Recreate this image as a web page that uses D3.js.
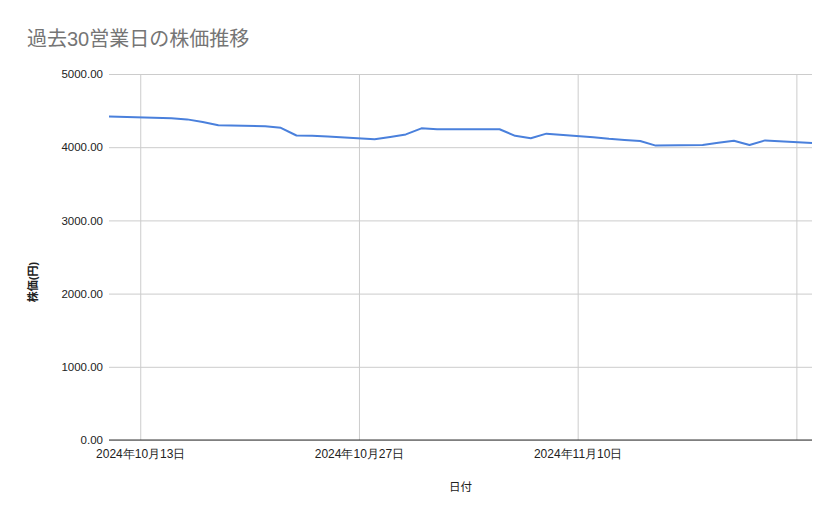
<!DOCTYPE html>
<html>
<head>
<meta charset="utf-8">
<script src="https://cdn.jsdelivr.net/npm/d3@7"></script>
<style>
  body { margin: 0; background: #fff; }
  svg { display: block; font-family: Arial, "Liberation Sans", "Noto Sans CJK JP", sans-serif; }
</style>
</head>
<body>
<svg id="canvas"></svg>
<script>
// data
const dates = ['2024-10-11','2024-10-15','2024-10-16','2024-10-17','2024-10-18',
  '2024-10-21','2024-10-22','2024-10-23','2024-10-24','2024-10-25',
  '2024-10-28','2024-10-29','2024-10-30','2024-10-31','2024-11-01',
  '2024-11-05','2024-11-06','2024-11-07','2024-11-08',
  '2024-11-11','2024-11-12','2024-11-13','2024-11-14','2024-11-15',
  '2024-11-18','2024-11-19','2024-11-20','2024-11-21','2024-11-22','2024-11-25']
const prices = [4420, 4395, 4380, 4345, 4300,
  4285, 4265, 4160, 4158, 4145,
  4108, 4140, 4175, 4258, 4245,
  4245, 4155, 4122, 4185,
  4135, 4115, 4100, 4085, 4022,
  4030, 4060, 4088, 4030, 4093, 4058]
const xTickDates = ['2024-10-13','2024-10-27','2024-11-10','2024-11-24']
const xTickLabels = ['2024年10月13日','2024年10月27日','2024年11月10日','']
const yTicks = [0, 1000, 2000, 3000, 4000, 5000]

const width = 839
const height = 519
const margin = {top: 74, right: 27, bottom: 79, left: 109}

const parse = d3.timeParse('%Y-%m-%d')
const data = dates.map((d, i) => ({date: parse(d), value: prices[i]}))

const canvas = d3.select('#canvas')
    .attr('width', width)
    .attr('height', height)

const x = d3.scaleTime()
    .domain([parse('2024-10-11'), parse('2024-11-25')])
    .range([margin.left, width - margin.right])

const y = d3.scaleLinear()
    .domain([0, 5000])
    .range([height - margin.bottom, margin.top])

// horizontal gridlines + labels
const yAxis = d3.axisLeft(y)
    .tickValues(yTicks)
    .tickFormat(d3.format('.2f'))
    .tickSize(-(width - margin.left - margin.right))
    .tickPadding(6)

canvas.append('g')
    .attr('transform', `translate(${margin.left},0)`)
    .call(yAxis)
    .call(g => g.select('.domain').remove())
    .call(g => g.selectAll('.tick line').attr('stroke', '#cccccc'))
    .call(g => g.selectAll('.tick text')
        .attr('fill', '#222')
        .style('font-size', '11.5px'))

// vertical gridlines + date labels
const xAxis = d3.axisBottom(x)
    .tickValues(xTickDates.map(parse))
    .tickFormat((d, i) => xTickLabels[i])
    .tickSize(-(height - margin.top - margin.bottom))
    .tickPadding(9)

canvas.append('g')
    .attr('transform', `translate(0,${height - margin.bottom})`)
    .call(xAxis)
    .call(g => g.select('.domain').remove())
    .call(g => g.selectAll('.tick line').attr('stroke', '#cccccc'))
    .call(g => g.selectAll('.tick text')
        .attr('fill', '#222')
        .style('font-size', '12px'))

// baseline at zero
canvas.append('line')
    .attr('x1', margin.left)
    .attr('x2', width - margin.right)
    .attr('y1', y(0))
    .attr('y2', y(0))
    .attr('stroke', '#333')
    .attr('stroke-width', 1)

const line = d3.line()
    .x(d => x(d.date))
    .y(d => y(d.value))

canvas.append('path')
    .datum(data)
    .attr('d', line)
    .attr('fill', 'none')
    .attr('stroke', '#4a80dc')
    .attr('stroke-width', 2)
    .attr('stroke-linejoin', 'round')

// titles
canvas.append('text')
    .attr('x', 27)
    .attr('y', 46)
    .attr('fill', '#757575')
    .style('font-size', '20px')
    .text('過去30営業日の株価推移')

canvas.append('text')
    .attr('x', (margin.left + width - margin.right) / 2)
    .attr('y', 491)
    .attr('text-anchor', 'middle')
    .attr('fill', '#222')
    .style('font-size', '11.5px')
    .text('日付')

canvas.append('text')
    .attr('transform', `translate(37,${(margin.top + height - margin.bottom) / 2 + 25}) rotate(-90)`)
    .attr('text-anchor', 'middle')
    .attr('fill', '#222')
    .style('font-size', '11px')
    .style('font-weight', 'bold')
    .text('株価(円)')
</script>
</body>
</html>
